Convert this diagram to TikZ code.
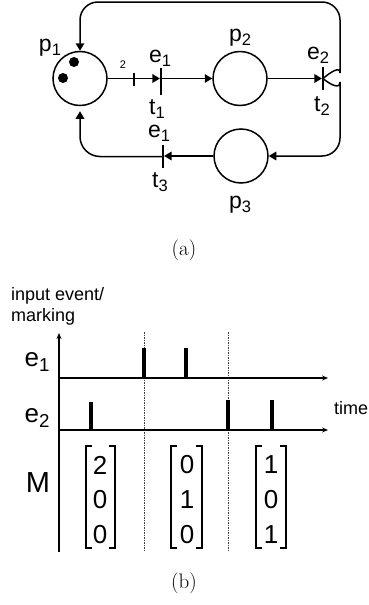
\documentclass[tikz,border=0pt]{standalone}
\usepackage{fontspec}
\usepackage{graphicx}
\usetikzlibrary{arrows.meta}
\newfontfamily\arialf{Liberation Sans}
\newcommand\mysub[1]{\raisebox{-0.3ex}{\scalebox{0.72}{#1}}}
\begin{document}
\begin{tikzpicture}[x=1pt,y=-1pt,
  placenode/.style={circle,draw,line width=1.5pt,minimum size=54pt,inner sep=0pt},
  transnode/.style={rectangle,fill=black,draw=none,minimum width=1.7pt,inner sep=0pt},
  arcline/.style={line width=1.5pt,-{Triangle[length=7.5pt,width=8.5pt]}},
  lbl/.style={font=\arialf\fontsize{23}{23}\selectfont,inner sep=0pt},
  blbl/.style={font=\arialf\fontsize{26}{26}\selectfont,inner sep=0pt},
  smalltxt/.style={font=\arialf\fontsize{18}{18}\selectfont,inner sep=0pt},
  tokennode/.style={circle,fill=black,minimum size=10pt,inner sep=0pt},
  axline/.style={line width=1.2pt,-{Stealth[length=6pt,width=5pt]}},
  pulseline/.style={line width=3.6pt},
  gridline/.style={line width=0.7pt,dash pattern=on 1.5pt off 1pt,black!75},
  brk/.style={line width=1.2pt},
  captxt/.style={font=\fontsize{21}{21}\selectfont,inner sep=0pt}
]
\path[use as bounding box] (0,0) rectangle (369,605);

% ---------- (a) Petri net ----------
\node[placenode] (p1) at (80,78.5) {};
\node[placenode] (p2) at (240,78.5) {};
\node[placenode] (p3) at (241,156) {};
\node[tokennode] (k1) at (74,62) {};
\node[tokennode] (k2) at (63,78) {};

\node[transnode,minimum height=27pt] (t1) at (161,81.5) {};
\node[transnode,minimum height=23pt] (t2) at (323,78.5) {};
\node[transnode,minimum height=23pt] (t3) at (163,156.5) {};

\draw[arcline] (p1.east) -- (p1.east -| t1.west);
\draw[line width=1.4pt] (134,73) -- (134,86);
\node[font=\arialf\fontsize{11}{11}\selectfont,inner sep=0pt] (w) at (123,65) {2};
\draw[arcline] (t1.east |- p2.west) -- (p2.west);
\draw[arcline] (p2.east) -- (p2.east -| t2.west);
\draw[arcline] (p3.west) -- (p3.west -| t3.east);

\coordinate (ur) at (340,55);
\coordinate (tr) at (340,2);
\coordinate (lr) at (340,100);
\draw[arcline,rounded corners=18pt] (t2.center) to[out=40,in=-90] (ur) -- (tr) -- (p1.north |- tr) -- (p1.north);
\draw[arcline,rounded corners=18pt] (t2.center) to[out=-40,in=90] (lr) -- (lr |- p3.east) -- (p3.east);
\draw[arcline,rounded corners=20pt,shorten >=5pt] (t3.west) -- (p1.south |- t3.west) -- (p1.south);

\node[lbl] (lp1) at (50,48) {p\mysub{1}};
\node[lbl] (lp2) at (240,38) {p\mysub{2}};
\node[lbl] (lp3) at (240,205) {p\mysub{3}};
\node[lbl] (le1) at (160,58) {e\mysub{1}};
\node[lbl] (lt1) at (157,109) {t\mysub{1}};
\node[lbl] (le2) at (318,55) {e\mysub{2}};
\node[lbl] (lt2) at (322,106) {t\mysub{2}};
\node[lbl] (le3) at (159,133) {e\mysub{1}};
\node[lbl] (lt3) at (160,182) {t\mysub{3}};

\node[captxt] (ca) at (184,250) {(a)};

% ---------- (b) timing chart ----------
\node[smalltxt,anchor=west] (ie) at (11,296) {input event/};
\node[smalltxt,anchor=west] (mk) at (11,317) {marking};
\node[smalltxt,anchor=west] (tm) at (334,408) {time};

\draw[gridline] (144,332) -- (144,552);
\draw[gridline] (228,332) -- (228,552);

\draw[axline] (59,552) -- (59,333);
\draw[axline] (59,378) -- (328,378);
\draw[axline] (59,430) -- (328,430);

\draw[pulseline,line width=4.2pt] (144,378) -- (144,348);
\draw[pulseline] (186,378) -- (186,348);
\draw[pulseline] (91,430) -- (91,402);
\draw[pulseline,line width=4.2pt] (228,430) -- (228,400);
\draw[pulseline,line width=4.2pt] (272,430) -- (272,400);

\node[blbl] (be1) at (37,362) {e\mysub{1}};
\node[blbl] (be2) at (37,418) {e\mysub{2}};
\node[font=\arialf\fontsize{29}{29}\selectfont,inner sep=0pt] (bm) at (38,483) {M};

% matrices
\foreach \l/\r/\c/\a/\b/\d [count=\i] in {86/115/100/2/0/0, 171/202/187/0/1/0, 256/286/271/1/0/1}{
  \draw[brk] (\l+6,446) -- (\l,446) -- (\l,548) -- (\l+6,548);
  \draw[brk] (\r-6,446) -- (\r,446) -- (\r,548) -- (\r-6,548);
  \node[blbl] (m\i a) at (\c,465) {\a};
  \node[blbl] (m\i b) at (\c,500) {\b};
  \node[blbl] (m\i c) at (\c,535) {\d};
}

\node[captxt] (cb) at (184,583) {(b)};
\end{tikzpicture}
\end{document}
